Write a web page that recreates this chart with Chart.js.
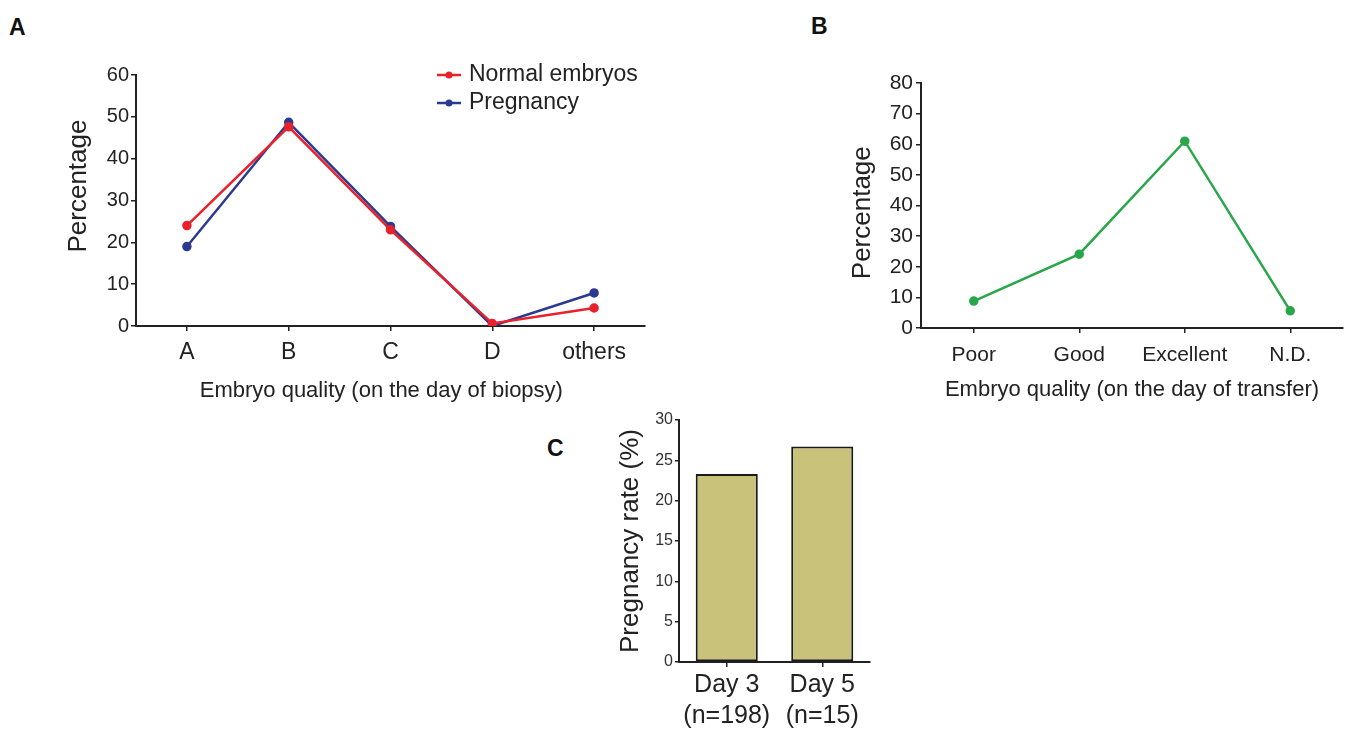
<!DOCTYPE html>
<html>
<head>
<meta charset="utf-8">
<script src="https://cdn.jsdelivr.net/npm/chart.js@4.4.1/dist/chart.umd.min.js"></script>
<style>
  html, body { margin: 0; padding: 0; background: #fff; }
  body { width: 1345px; height: 731px; position: relative; overflow: hidden; font-family: "Liberation Sans", Arial, sans-serif; }
  .wrap { position: absolute; }
  .panel { position: absolute; font-weight: bold; font-size: 23px; color: #111; font-family: "Liberation Sans", Arial, sans-serif; }
</style>
</head>
<body>
<div class="panel" style="left:9px;top:14px;">A</div>
<div class="panel" style="left:811px;top:13px;">B</div>
<div class="panel" style="left:547px;top:435px;">C</div>

<div class="wrap" style="left:0px;top:0px;width:680px;height:420px;"><canvas id="cA"></canvas></div>
<div class="wrap" style="left:830px;top:0px;width:519px;height:420px;"><canvas id="cB"></canvas></div>
<div class="wrap" style="left:600px;top:400px;width:300px;height:331px;"><canvas id="cC"></canvas></div>

<script>
// ---- Data ----
const categoriesA = ['A', 'B', 'C', 'D', 'others'];
const normalEmbryos = [24, 47.6, 23, 0.6, 4.3];
const pregnancyA = [19, 48.7, 23.8, 0, 7.9];

const categoriesB = ['Poor', 'Good', 'Excellent', 'N.D.'];
const transferQuality = [8.8, 24.1, 61, 5.6];

const categoriesC = [['Day 3', '(n=198)'], ['Day 5', '(n=15)']];
const pregnancyRate = [23.3, 26.7];

const FONT = '"Liberation Sans", Arial, sans-serif';
Chart.defaults.font.family = FONT;
Chart.defaults.color = '#222';
Chart.defaults.animation = false;

const AX = '#222';

function fixW(w) { return function (scale) { scale.width = w; }; }
function fixH(h) { return function (scale) { scale.height = h; }; }

// Custom legend for panel A (vertical list inside plot)
const legendA = {
  id: 'legendA',
  afterDraw(chart) {
    const ctx = chart.ctx;
    const ca = chart.chartArea;
    const x0 = ca.left + 301;
    chart.data.datasets.forEach((ds, i) => {
      const y = ca.top + i * 28;
      ctx.save();
      ctx.strokeStyle = ds.borderColor;
      ctx.lineWidth = 2.5;
      ctx.beginPath();
      ctx.moveTo(x0, y);
      ctx.lineTo(x0 + 24, y);
      ctx.stroke();
      ctx.fillStyle = ds.borderColor;
      ctx.beginPath();
      ctx.arc(x0 + 12, y, 3.5, 0, Math.PI * 2);
      ctx.fill();
      ctx.fillStyle = '#222';
      ctx.font = '23px ' + FONT;
      ctx.textBaseline = 'middle';
      ctx.textAlign = 'left';
      ctx.fillText(ds.label, x0 + 32, y);
      ctx.restore();
    });
  }
};

function lineDs(label, data, color) {
  return {
    label, data,
    borderColor: color, backgroundColor: color,
    borderWidth: 2.5, pointRadius: 3.5, pointHoverRadius: 3.5,
    pointBackgroundColor: color, pointBorderColor: color, tension: 0
  };
}

// ---- Panel A ----
new Chart(document.getElementById('cA'), {
  type: 'line',
  data: {
    labels: categoriesA,
    datasets: [
      lineDs('Normal embryos', normalEmbryos, '#e8212b'),
      lineDs('Pregnancy', pregnancyA, '#2b3990')
    ]
  },
  options: {
    responsive: true, maintainAspectRatio: false,
    layout: { padding: { left: 59, top: 75, right: 35, bottom: 12 } },
    plugins: { legend: { display: false }, tooltip: { enabled: false } },
    scales: {
      x: {
        offset: true,
        grid: { display: true, drawOnChartArea: false, offset: false, tickLength: 5, color: AX, lineWidth: 1.5 },
        border: { color: AX, width: 2 },
        ticks: { font: { size: 23 }, padding: 8, color: '#222' },
        title: { display: true, text: 'Embryo quality (on the day of biopsy)   ', font: { size: 22 }, padding: { top: 4, bottom: 4 }, color: '#222' },
        afterFit: fixH(82)
      },
      y: {
        min: 0, max: 60,
        grid: { display: true, drawOnChartArea: false, tickLength: 5, color: AX, lineWidth: 1.5 },
        border: { color: AX, width: 2 },
        ticks: { stepSize: 10, font: { size: 20 }, padding: 2, color: '#222' },
        title: { display: true, text: '    Percentage', font: { size: 26 }, padding: { top: 4, bottom: 4 }, color: '#222' },
        afterFit: fixW(77)
      }
    }
  },
  plugins: [legendA]
});

// ---- Panel B ----
new Chart(document.getElementById('cB'), {
  type: 'line',
  data: {
    labels: categoriesB,
    datasets: [lineDs('Quality', transferQuality, '#28a64a')]
  },
  options: {
    responsive: true, maintainAspectRatio: false,
    layout: { padding: { left: 13, top: 83, right: 0, bottom: 13 } },
    plugins: { legend: { display: false }, tooltip: { enabled: false } },
    scales: {
      x: {
        offset: true,
        grid: { display: true, drawOnChartArea: false, offset: false, tickLength: 5, color: AX, lineWidth: 1.5 },
        border: { color: AX, width: 2 },
        ticks: { font: { size: 21 }, padding: 10, color: '#222' },
        title: { display: true, text: 'Embryo quality (on the day of transfer)', font: { size: 22 }, padding: { top: 4, bottom: 4 }, color: '#222' },
        afterFit: fixH(79)
      },
      y: {
        min: 0, max: 80,
        grid: { display: true, drawOnChartArea: false, tickLength: 5, color: AX, lineWidth: 1.5 },
        border: { color: AX, width: 2 },
        ticks: { stepSize: 10, font: { size: 21 }, padding: 3, color: '#222' },
        title: { display: true, text: 'Percentage  ', font: { size: 26 }, padding: { top: 4, bottom: 4 }, color: '#222' },
        afterFit: fixW(78)
      }
    }
  }
});

// ---- Panel C ----
new Chart(document.getElementById('cC'), {
  type: 'bar',
  data: {
    labels: categoriesC,
    datasets: [{
      label: 'Pregnancy rate',
      data: pregnancyRate,
      backgroundColor: '#c9c27a',
      borderColor: '#1a1a1a',
      borderWidth: 2,
      borderSkipped: false,
      categoryPercentage: 1,
      barPercentage: 0.65
    }]
  },
  options: {
    responsive: true, maintainAspectRatio: false,
    layout: { padding: { left: 11, top: 20, right: 30, bottom: 0 } },
    plugins: { legend: { display: false }, tooltip: { enabled: false } },
    scales: {
      x: {
        grid: { display: true, drawOnChartArea: false, offset: false, tickLength: 5, color: AX, lineWidth: 1.5 },
        border: { color: AX, width: 2 },
        ticks: { font: { size: 25, lineHeight: 1.25 }, padding: 2, color: '#222' },
        afterFit: fixH(69)
      },
      y: {
        min: 0, max: 30,
        grid: { display: true, drawOnChartArea: false, tickLength: 4, color: AX, lineWidth: 1.5 },
        border: { color: AX, width: 2 },
        ticks: { stepSize: 5, font: { size: 16 }, padding: 2, color: '#333' },
        title: { display: true, text: 'Pregnancy rate (%)', font: { size: 26 }, padding: { top: 4, bottom: 4 }, color: '#222' },
        afterFit: fixW(68)
      }
    }
  }
});
</script>
</body>
</html>
